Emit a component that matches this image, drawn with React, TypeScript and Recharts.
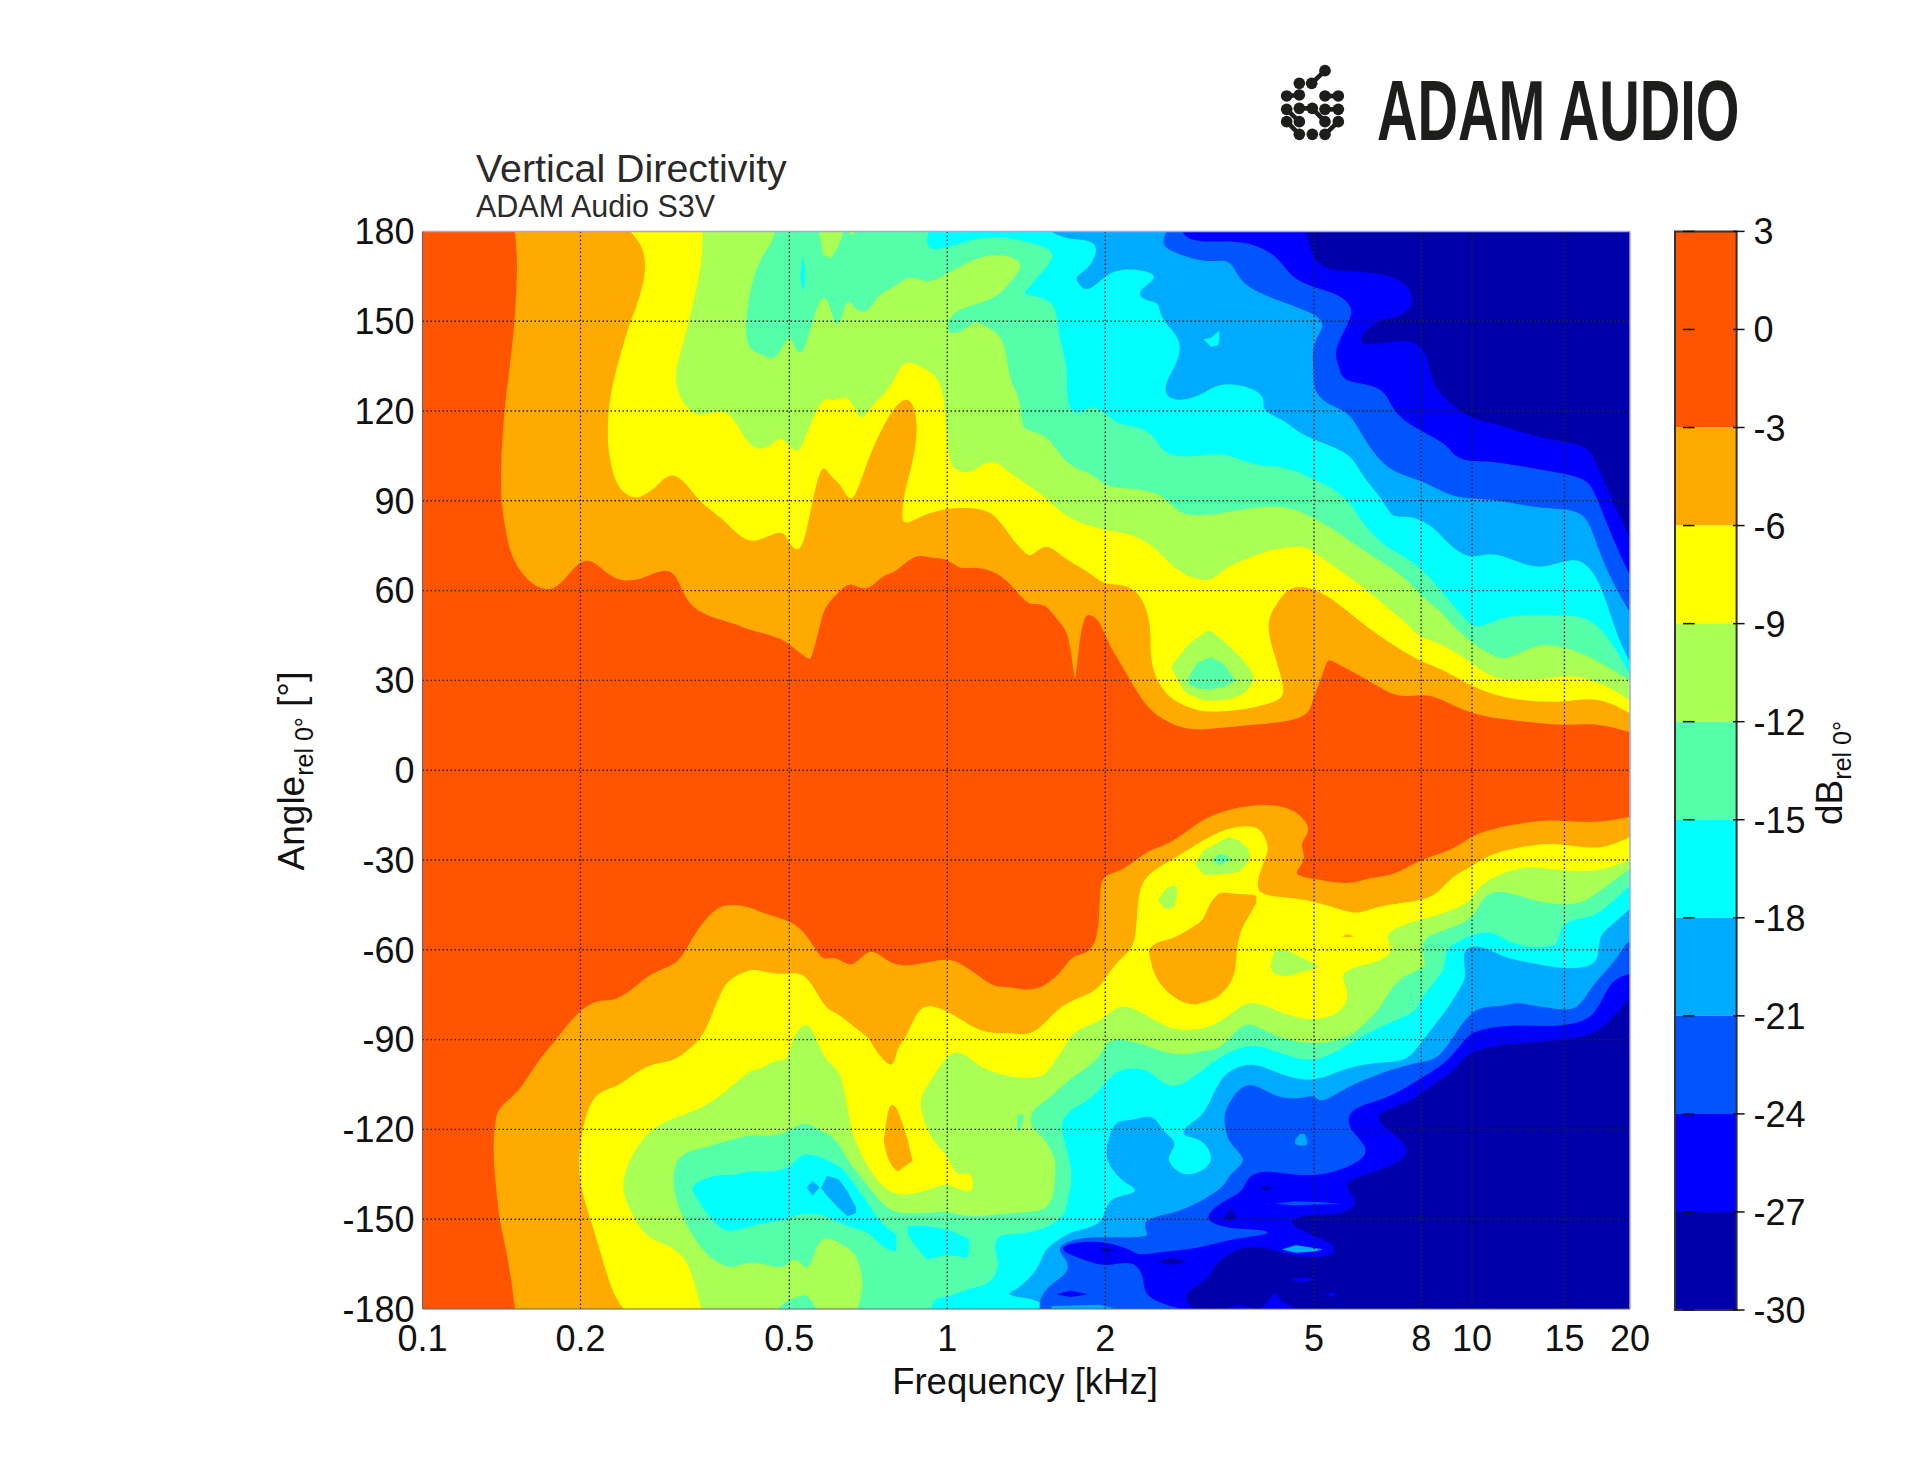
import { ComposedChart, Area, XAxis, YAxis, ReferenceLine, ReferenceArea } from 'recharts'

// frequency in kHz, angle in degrees
const freqTicks = [0.1, 0.2, 0.5, 1, 2, 5, 8, 10, 15, 20]
const angleTicks = [180, 150, 120, 90, 60, 30, 0, -30, -60, -90, -120, -150, -180]
const dbTicks = [3, 0, -3, -6, -9, -12, -15, -18, -21, -24, -27, -30]

const RED = '#ff5500'
const ORANGE = '#ffaa00'
const YELLOW = '#ffff00'
const LIME = '#aaff55'
const SPRING = '#55ffaa'
const CYAN = '#00ffff'
const SKY = '#00aaff'
const AZURE = '#0055ff'
const BLUE = '#0000ff'
const NAVY = '#0000aa'

const dbBands = [
  { lo: -3, hi: 3, color: RED }, { lo: -6, hi: -3, color: ORANGE }, { lo: -9, hi: -6, color: YELLOW },
  { lo: -12, hi: -9, color: LIME }, { lo: -15, hi: -12, color: SPRING }, { lo: -18, hi: -15, color: CYAN },
  { lo: -21, hi: -18, color: SKY }, { lo: -24, hi: -21, color: AZURE }, { lo: -27, hi: -24, color: BLUE },
  { lo: -30, hi: -27, color: NAVY },
]

// contour lines, walked left to right: [kHz, deg]. Upper half fills up to +180, lower half down to -180
const up3 = [[.15,180],[.152,170],[.15,150],[.147,136],[.143,120],[.141,102],[.141,90],[.144,80],[.148,70],[.161,62],[.172,60],[.182,61],[.2,71],[.214,69.5],[.226,65],[.25,62],[.29,68],[.306,65],[.32,55],[.354,51],[.394,49],[.416,47],[.454,45.5],[.49,43.4],[.51,40.7],[.544,37],[.55,37],[.562,43],[.575,50],[.585,55],[.63,60.7],[.656,63],[.7,59],[.76,66],[.785,65],[.87,72.7],[.93,70.6],[1,71],[1.05,67],[1.12,68],[1.21,67],[1.29,64],[1.4,57],[1.44,55],[1.54,56],[1.62,50],[1.69,47],[1.72,40],[1.75,30],[1.755,30],[1.78,41],[1.82,52],[1.88,52],[1.95,50],[2.02,43],[2.14,35.6],[2.27,27.8],[2.4,21],[2.57,17],[2.81,13.8],[3.08,13.5],[3.68,15],[4.88,16.7],[4.95,23],[5.09,27.8],[5.3,37],[5.35,37],[5.85,33.3],[6.5,29],[7.2,24],[8,25.5],[8.64,24.4],[10,18.3],[12.1,16.6],[15,14.6],[17.2,16],[20,12.7]]
const low3 = [[.15,-180],[.147,-167.4],[.143,-157.3],[.14,-149.5],[.139,-143.9],[.138,-139.4],[.136,-126],[.138,-115.4],[.14,-112.6],[.152,-107.6],[.158,-103],[.169,-95.3],[.18,-90],[.199,-79.8],[.218,-76.5],[.23,-77.4],[.25,-73.7],[.27,-68.1],[.295,-65.9],[.312,-63],[.332,-53.6],[.36,-46.4],[.38,-44.7],[.416,-45.3],[.446,-47.8],[.497,-50],[.534,-53.6],[.57,-62],[.585,-63.4],[.616,-62],[.66,-67],[.71,-58.5],[.763,-63.6],[.81,-65.3],[.865,-65.3],[1,-62.5],[1.07,-64.8],[1.18,-70.3],[1.24,-72.6],[1.33,-72.3],[1.4,-73.7],[1.54,-72.5],[1.68,-65.8],[1.72,-61.9],[1.88,-61.3],[1.95,-53.5],[1.95,-39],[1.99,-34.6],[2.15,-34],[2.4,-26.8],[2.57,-25.6],[2.81,-21.7],[3.03,-16.7],[3.45,-12.8],[4.07,-11.1],[4.6,-12.8],[5,-20],[4.65,-24.5],[4.88,-30],[4.5,-35],[4.95,-36.2],[5.85,-38.5],[6.4,-35.7],[7.05,-35.5],[8,-29.5],[9.2,-26.8],[10,-21.7],[11.2,-19],[13.5,-16.7],[14.8,-16.7],[17,-17.8],[20,-15.6]]

const up6 = [[.249,180],[.263,175],[.266,169.6],[.265,164],[.256,155],[.249,150],[.242,143],[.234,134],[.227,124],[.225,114],[.226,106],[.232,97],[.24,93],[.251,91],[.26,91],[.277,94],[.29,98],[.301,99],[.318,96],[.335,90],[.373,84],[.387,81],[.416,76],[.442,77],[.479,80],[.493,78.5],[.5,75.8],[.515,73],[.532,75],[.548,86],[.563,96],[.58,102.7],[.6,97.7],[.626,96],[.656,88],[.686,97],[.71,105],[.75,114],[.786,120.5],[.835,125],[.865,122],[.88,114],[.86,102.6],[.83,93.7],[.815,83.7],[.835,82],[.89,85],[1,87.7],[1.11,87.7],[1.23,86.5],[1.33,77],[1.4,73],[1.44,70.7],[1.54,76.3],[1.65,71.4],[1.8,67.7],[1.93,64],[2,62],[2.19,62],[2.33,59],[2.45,50],[2.43,36.7],[2.52,29],[2.68,23],[2.99,20],[3.15,19.4],[3.68,20],[4.22,22.8],[4.41,25],[4.32,32],[4.12,43],[4.07,50],[4.22,55],[4.41,60],[4.7,62],[5.25,59],[5.8,53],[6.4,47],[6.9,43],[8,36],[8.64,34.5],[10,27.8],[11.5,24],[13.5,22.8],[15,22.8],[16.7,24.2],[18.3,22.8],[20,19]]
const low6 = [[.242,-180],[.23,-175],[.218,-160.4],[.209,-150.3],[.2,-139.4],[.198,-131.5],[.2,-123.6],[.206,-112.5],[.218,-106.8],[.238,-105.7],[.265,-98.3],[.295,-97.7],[.313,-95],[.34,-90],[.355,-82.4],[.375,-71.3],[.397,-68.5],[.425,-66.2],[.446,-67.3],[.488,-68.4],[.52,-67.3],[.548,-70],[.585,-79.8],[.616,-81],[.66,-85.4],[.71,-89.4],[.72,-92],[.755,-97],[.778,-98.5],[.79,-98.5],[.805,-92],[.835,-89.7],[.875,-80],[.93,-78],[1.03,-81.7],[1.11,-85.6],[1.2,-88],[1.3,-87.5],[1.44,-89],[1.55,-83.7],[1.66,-78],[1.84,-75.3],[1.96,-72.5],[2.07,-65.3],[2.2,-61.4],[2.28,-58],[2.3,-48],[2.32,-40],[2.4,-34.7],[2.66,-30.2],[2.86,-26.9],[3.15,-22.3],[3.45,-19],[3.94,-18],[4.07,-24.5],[4.1,-26.9],[3.9,-35.8],[3.88,-41.7],[4.43,-42.5],[5,-43.6],[5.86,-47.7],[6.14,-47.7],[6.65,-45.2],[8,-43.6],[8.6,-41.4],[9.2,-35],[10,-32.3],[10.8,-27.9],[12.4,-25.6],[14.2,-24],[16.7,-26.2],[18.2,-25.6],[20,-22.3]]
const blobOrange = [[2.42,-60,-60],[2.46,-67,-58.5],[2.55,-72,-57],[2.74,-77,-55.9],[2.95,-78.7,-52],[3.08,-77.5,-50.3],[3.15,-77,-44.7],[3.27,-76,-41.5],[3.31,-75,-40.8],[3.47,-71.5,-41],[3.56,-65.9,-41.3],[3.565,-54.7,-41.3],[3.83,-46.5,-41.6],[3.88,-44,-42]]
const spikeOrange = [[.757,-124,-124],[.765,-128,-117],[.778,-131.6,-110.6],[.804,-134.4,-113],[.813,-133.5,-116],[.836,-132,-121.5],[.859,-130.5,-130.5]]
const dotOrange = [[5.65,-55.5,-55.5],[5.8,-55.8,-54.8],[5.95,-55.5,-55.5]]

const up9 = [[.342,180],[.341,169.5],[.33,158],[.319,147],[.308,138],[.303,132],[.306,126],[.318,121],[.336,118],[.36,120],[.38,120],[.397,116],[.416,109],[.439,107],[.458,108],[.482,112],[.5,108],[.52,106],[.532,109.4],[.563,120.5],[.585,125],[.61,122.7],[.64,126],[.67,120.5],[.686,116],[.724,123],[.77,126],[.815,135],[.84,137],[.91,134],[.99,130],[1,104],[1.035,100],[1.1,99],[1.15,101.6],[1.23,104],[1.32,99],[1.44,94.8],[1.54,91],[1.65,86],[1.76,83],[2,80],[2.25,79],[2.47,75],[2.65,69],[2.81,65.5],[3.08,63],[3.22,64],[3.43,68.5],[3.85,71.5],[4.17,74],[4.82,75.2],[5,72.7],[5.5,67.7],[6.16,61.5],[6.8,55.3],[7.4,50],[7.7,47],[8,44],[8.64,42.8],[10,36],[10.8,31],[12.1,30],[13.9,30.5],[15,31.7],[16.5,31],[18.3,27.8],[20,23.3]]
const low9 = [[.34,-180],[.328,-169.6],[.317,-162.9],[.295,-158.5],[.265,-156.2],[.249,-147.3],[.238,-139.4],[.247,-130.5],[.265,-121.5],[.29,-117],[.34,-113.2],[.374,-108.1],[.4,-103.6],[.425,-99.7],[.44,-100.3],[.47,-96.4],[.497,-97.5],[.505,-90],[.53,-84.5],[.55,-85.5],[.563,-90],[.59,-98],[.626,-99.7],[.645,-112.6],[.66,-122.7],[.71,-133.9],[.778,-142.2],[.865,-141.7],[.95,-139.4],[1,-137.8],[1.07,-140.6],[1.12,-141.1],[1.12,-135],[1.08,-134.4],[1.05,-135.5],[1.02,-132.7],[1,-128.3],[.93,-123.8],[.875,-110.4],[.915,-105.9],[1,-94.7],[1.06,-93.6],[1.13,-98],[1.21,-100.9],[1.38,-103.1],[1.5,-102.5],[1.55,-101.2],[1.62,-95.6],[1.66,-93.7],[1.74,-86.5],[1.96,-84.3],[2.1,-78.4],[2.26,-79.3],[2.47,-83.2],[2.66,-86.5],[2.95,-87],[3.22,-85.4],[3.54,-80.4],[3.77,-76.5],[4.25,-80.4],[4.57,-82.4],[5,-83.7],[5.63,-81.5],[5.86,-74.8],[5.63,-69.2],[5.73,-67],[6.14,-65.2],[6.74,-63.6],[7.1,-60.2],[6.8,-55.2],[7.2,-52.4],[8,-49.7],[8.84,-48],[10,-43.6],[10.2,-40.2],[10.6,-36.9],[12.4,-31.8],[13.9,-32.9],[16.1,-34],[17.7,-33.4],[20,-30]]
const lobeLime = [[2.97,-31.3,-31.3],[3.08,-35,-26.8],[3.43,-34.6,-22.3],[3.6,-34,-23.5],[3.73,-31,-26],[3.77,-29,-28]]
const patchLime = [[2.52,-43.6,-43.6],[2.56,-45,-41.5],[2.6,-46.4,-40],[2.66,-46.2,-38.7],[2.71,-45.8,-38.6],[2.74,-41.4,-39]]
const bayLime = [[4.12,-65.5,-65.5],[4.2,-68,-60.5],[4.4,-69,-60],[4.6,-68,-61.5],[5.1,-66,-65.5]]
const upLime = [[2.68,34,35],[2.81,26.7,39.5],[2.88,25.3,42.3],[3.08,23.3,45.6],[3.15,23.3,47.3],[3.29,23.3,44.5],[3.52,23.9,40],[3.77,26.7,34.5],[3.85,31,31]]

const up12 = [[.47,180],[.463,176],[.439,170.6],[.424,163],[.413,152],[.413,145],[.42,140],[.446,139],[.463,137],[.478,139],[.5,146],[.51,142],[.525,138],[.54,143],[.558,152],[.575,158],[.59,158],[.605,151],[.62,147.5],[.634,154],[.65,158],[.67,153],[.71,153],[.74,159.5],[.79,161],[.85,166],[.915,162],[1,166],[1.07,169],[1.23,173.4],[1.42,170],[1.33,164],[1.26,158.5],[1.15,156],[1.05,154],[1,150.6],[1,145],[1.08,147],[1.13,150.6],[1.19,148],[1.29,145],[1.31,129.5],[1.38,125],[1.38,114.4],[1.44,113.4],[1.54,112],[1.62,107],[1.7,101.6],[1.93,98.5],[2,94.2],[2.33,94.2],[2.6,91.7],[2.75,85.6],[3.08,84.7],[3.68,87.4],[4.4,88.9],[5,84.3],[5.5,80],[6.1,74.4],[6.9,68.3],[7.5,64],[8,57.8],[8.64,54],[9,50],[10,42.3],[10.8,38.9],[11.4,36.9],[12.1,38.4],[13.2,41.7],[14,42],[15.5,40.6],[17.3,36.7],[20,30]]
const low12 = [[.674,-180],[.696,-171.9],[.674,-161.8],[.645,-159.6],[.589,-155.1],[.563,-158.5],[.548,-166.3],[.534,-166.3],[.51,-161.8],[.493,-166.8],[.454,-165.2],[.415,-164],[.387,-166.8],[.366,-164.6],[.341,-160.7],[.317,-151.7],[.301,-141.7],[.3,-135],[.306,-129.4],[.323,-127.1],[.347,-126],[.38,-123.8],[.423,-121.5],[.454,-122.7],[.497,-121],[.534,-117],[.563,-119.9],[.616,-122.7],[.639,-129.4],[.686,-136],[.75,-145],[.8,-148.4],[.93,-147.8],[1,-147.3],[1.11,-149.5],[1.22,-148.4],[1.38,-147.8],[1.5,-147.3],[1.55,-146],[1.6,-142],[1.6,-135],[1.62,-130],[1.52,-122],[1.44,-119.7],[1.44,-115],[1.48,-112.4],[1.55,-110.2],[1.73,-102.3],[1.87,-99],[2,-93.4],[2.01,-89.6],[2.3,-90.4],[2.63,-95],[2.9,-95],[3.08,-93.4],[3.31,-93.7],[3.62,-84.8],[3.83,-84.6],[4.37,-90.4],[5,-91.3],[5.38,-91],[5.93,-88.2],[6.14,-85.8],[6.75,-79.1],[7.1,-70.2],[8,-66.3],[8.2,-65.2],[8,-60.8],[8.05,-55.8],[8.84,-53.6],[10,-50.2],[10.4,-43.6],[10.9,-40.2],[11.8,-40.8],[13.7,-44.7],[16,-45.2],[17.2,-41.4],[18.6,-36.9],[20,-32.9]]
const topLime = [[.57,180,180],[.58,172,180],[.6,171,180],[.62,175,180],[.635,180,180]]
const topLime2 = [[.65,180,180],[.655,178.5,180],[.67,180,180]]
const fleckSpring = [[.475,-180,-180],[.497,-180,-177],[.534,-180,-175.2],[.548,-180,-176.4],[.563,-180,-180]]
const fleckSpring2 = [[3.2,-30,-30],[3.3,-32,-28],[3.4,-30.5,-28.5],[3.48,-30,-30]]
const upSpring = [[2.88,28.9,31],[3,27.2,36],[3.18,27,37.8],[3.36,27.8,35.6],[3.54,30,30]]
const stripeSpring = [[1.36,-120.5,-115],[1.38,-120.5,-115],[1.4,-115,-115]]

const up15 = [[.922,180],[.905,173.4],[1,174.5],[1.11,177.3],[1.24,178.6],[1.44,176.5],[1.59,173.9],[1.59,170],[1.47,164],[1.44,161.5],[1.39,159.5],[1.44,158.5],[1.62,157],[1.62,145.5],[1.7,135.6],[1.68,123],[1.76,117.7],[1.88,122.6],[2.01,119],[2.13,115],[2.33,115],[2.5,111],[2.56,106.5],[2.81,104],[3.29,106.5],[3.65,103.5],[3.94,101.6],[4.41,101.6],[5,97.3],[5.5,93.6],[5.92,88.7],[6.16,82.5],[6.9,73.8],[7.56,71.4],[8.64,61.5],[9.9,48],[10.4,47.8],[11,50],[12.1,52],[13.5,51.6],[16,52],[17.2,49],[18.4,43.4],[20,31.7]]
const low15 = [[.93,-180],[.95,-175.8],[1,-176.4],[1.09,-173],[1.2,-172.4],[1.27,-165.2],[1.22,-159.6],[1.25,-155.1],[1.33,-155.1],[1.5,-154],[1.68,-149.4],[1.69,-143.8],[1.75,-134.8],[1.64,-120.2],[1.66,-116.3],[1.73,-113],[1.87,-110.2],[2,-104.6],[2.12,-99.5],[2.4,-99.5],[2.52,-103.4],[2.69,-106.6],[2.94,-102.9],[3.26,-96.2],[3.72,-91.3],[4.1,-92.8],[4.62,-96.7],[5.1,-96.9],[5.55,-93.9],[6.14,-89],[7.1,-83.6],[7.86,-80.8],[8.05,-74.7],[9.05,-65.8],[8.75,-59.7],[10,-54.7],[10.9,-53.6],[11.4,-56.3],[12.7,-59.7],[14.4,-59],[14.6,-56.9],[14.9,-49.7],[17,-49.7],[18.6,-43.6],[20,-38.6]]
const poolCyan = [[.326,-140,-140],[.33,-141.7,-137.8],[.35,-149,-136],[.375,-154,-135],[.39,-154,-135.5],[.42,-152.3,-133.8],[.45,-151.2,-134.4],[.5,-150,-133.3],[.52,-148.4,-129.4],[.535,-148.2,-128],[.57,-148,-129],[.62,-151,-131.6],[.66,-152.9,-137.2],[.71,-154,-145.6],[.755,-160,-152.3],[.8,-160.7,-155]]
const poolCyan2 = [[.84,-155,-152.3],[.865,-158.5,-152.3],[.915,-163.5,-152.3],[1,-161.8,-153.4],[1.09,-163,-156.2],[1.1,-160,-157]]
const dotCyan = [[.525,165,165],[.53,160,172],[.535,162,168]]
const upCyan = [[3.08,144,144],[3.18,141.5,144.5],[3.28,142,146.5],[3.3,144,147]]

const up18 = [[1.575,180],[1.62,178.8],[1.72,177.3],[1.85,177.3],[1.95,175],[1.87,167.7],[1.76,165.2],[1.76,163.4],[1.85,159],[1.99,165.2],[2.15,167.7],[2.4,167],[2.54,164.6],[2.27,159.7],[2.4,156.6],[2.54,156.6],[2.54,151],[2.75,145.5],[2.79,140.5],[2.72,135],[2.6,129.4],[2.6,124.5],[2.81,123.2],[3.08,125.7],[3.29,129.4],[3.68,128.8],[4.07,125],[3.94,120],[4.41,117],[4.7,112],[5.5,107.8],[5.92,104.7],[6.16,98.5],[6.8,89.9],[7.05,83.7],[7.56,85.6],[8.5,81.2],[8.9,76.3],[9.9,70],[10.8,73.2],[12.1,70],[13.4,67],[15,70],[16.2,70.7],[17.4,64],[18.2,54],[19,44],[20,36]]
const low18 = [[1.55,-180],[1.49,-177],[1.38,-176],[1.28,-175.2],[1.38,-173],[1.5,-166],[1.53,-160],[1.62,-157.2],[1.73,-153.8],[2,-152],[2,-142.6],[2.29,-141.7],[2.28,-139.3],[2.16,-137.6],[2.04,-132.6],[2,-128],[2.03,-122.5],[2.1,-116.7],[2.23,-117.4],[2.47,-114.4],[2.56,-120.2],[2.69,-123],[2.73,-125.8],[2.6,-129.8],[2.74,-134.2],[2.9,-135.7],[3.12,-133.1],[3.21,-129.8],[3.12,-124.7],[2.94,-122.5],[2.83,-122.5],[2.8,-119.7],[2.99,-116.9],[3.12,-113.5],[3.3,-103.4],[3.5,-99.5],[3.83,-97.6],[4.18,-100.6],[4.76,-104],[5.2,-102.9],[5.75,-99.5],[6.4,-97.8],[7.2,-97.5],[7.63,-96],[8.15,-89],[9.05,-79.1],[9.5,-72.4],[9.8,-69],[9.5,-59.7],[10.3,-58],[11.4,-62.4],[12.7,-64.1],[15,-66.6],[17,-65.8],[17.5,-61.3],[17.4,-55.2],[18.6,-51.3],[20,-46.3]]

const up21 = [[2.62,180],[2.54,175],[2.79,172],[3.12,169.5],[3.43,170.8],[3.52,167.7],[3.68,161.5],[4.22,157.2],[4.99,152.9],[5.25,149],[5.09,145.5],[4.95,140.5],[4.99,133],[4.99,125.7],[5.42,121.4],[5.85,119.5],[6.16,112],[6.85,99.8],[8,97.3],[9.2,90.5],[10.8,91],[13.2,87.4],[15.7,87.4],[16.7,83.7],[17.4,73.8],[18.5,62.7],[20,52.8]]
const low21 = [[1.5,-180],[1.5,-176.2],[1.57,-171.7],[1.69,-168.4],[1.71,-164.5],[1.62,-160.5],[1.66,-157.7],[1.84,-156],[2,-156],[2.36,-156],[2.43,-155.5],[2.33,-149.9],[2.69,-148.2],[2.99,-144.9],[3.41,-138.7],[3.43,-134.8],[3.78,-130.3],[3.41,-124.7],[3.36,-115.8],[3.41,-112.4],[3.6,-105.7],[3.86,-104.6],[4.18,-109],[4.68,-110.2],[5,-108],[5.14,-111.8],[5.7,-106.2],[6.67,-101.2],[7.9,-97.3],[8.65,-96.9],[9.35,-86.9],[10.2,-78.6],[11.4,-79.1],[12.1,-77.4],[13,-78.6],[15,-80.2],[16,-79.7],[17,-71.3],[18.6,-64.7],[19.6,-58],[20,-57.2]]
const stripSky = [[1.58,-180,-179],[1.7,-180,-178.8],[1.95,-180,-178.6],[2.1,-180,-180]]

const up24 = [[2.81,180],[2.85,177.6],[3.08,176.3],[3.49,177],[3.85,175.7],[4.17,172.6],[4.36,169],[4.57,164],[5.04,161],[5.6,159],[5.93,154.7],[5.85,149.8],[5.42,140],[5.6,134.3],[5.66,129.4],[6.8,128.8],[7.04,120],[7.7,114.6],[9,109],[9.2,104.7],[10,102.9],[10.8,103.5],[13.5,100.4],[16.3,97.9],[17,94.8],[18.5,77.5],[20,65.2]]
const low24 = [[2.78,-180],[2.36,-176.2],[2.38,-170],[2.28,-163.3],[2.01,-166.1],[1.84,-163.9],[1.62,-160.3],[1.71,-157.7],[2.01,-157.2],[2.26,-160.5],[2.31,-162.2],[2.58,-160.8],[2.99,-160],[3.45,-156.6],[4.2,-155],[4,-153.3],[3.41,-153.3],[3.03,-149.9],[3.36,-143.8],[3.67,-141],[3.72,-135.9],[4,-133.4],[4.55,-135.4],[5.35,-135.4],[6.3,-129.8],[6.3,-125.3],[5.8,-119.7],[5.8,-114.1],[6.3,-111.3],[7.05,-109],[8.3,-101.2],[9.05,-96.9],[9.8,-88.6],[10.3,-86.7],[11.8,-84.9],[14,-85.8],[16,-84.7],[17.2,-81.3],[17.9,-74.7],[18.6,-69.7],[20,-68]]
const islandAzure = [[4.2,-144.8,-144.8],[4.6,-145.3,-144],[5.2,-145,-144.3],[5.6,-145,-144.9]]
const islandAzure2 = [[4.35,-160.2,-160],[4.62,-161.2,-158.6],[5,-160.8,-159.6],[5.2,-160,-160]]
const spotSky = [[4.6,-125,-123.5],[4.7,-125.4,-121.5],[4.8,-125.4,-121.5],[4.85,-125,-124]]

const up27 = [[4.82,180],[5,170],[5.34,166.5],[6.7,166.5],[7.54,162.7],[7.7,157.8],[7.68,154.7],[7.2,151],[6.7,151],[6.1,145.5],[6.15,141.8],[6.7,142.4],[7.56,144.2],[8.2,140.5],[8.3,131.9],[8.64,125.7],[9.9,117],[11.2,115.8],[13.4,110.9],[16.2,109],[17,106],[18.2,92.4],[20,77.5]]
const low27 = [[2.94,-180],[2.78,-175],[3.19,-169.5],[3.19,-166.1],[3.56,-158.9],[4.1,-159.4],[4.62,-162.8],[5.43,-162.8],[5.5,-159.4],[5.3,-157.2],[4.55,-152.7],[4.49,-149.9],[5,-148.2],[5.6,-148.8],[6.14,-144.9],[5.73,-139.8],[5.8,-137],[6.2,-135.4],[7.55,-130.3],[7.55,-124.7],[6.6,-118],[6.6,-114.1],[7.55,-111.3],[8.3,-105.7],[9.2,-100.8],[9.5,-96.9],[10.2,-93],[11.8,-91.3],[14.9,-90.2],[16.9,-88.6],[18.4,-83.6],[20,-75.8]]
const spotsNavy = [[[3.95,-139.6,-139.6],[4.02,-140.6,-138.8],[4.12,-140,-139.2],[4.2,-139.7,-139.7]], [[3.36,-150,-150],[3.47,-150.5,-146],[3.55,-150,-149]], [[2.5,-164.3,-164.3],[2.66,-165.2,-163],[2.85,-164.4,-164]], [[1.95,-160.4,-160.3],[2.03,-160.8,-159.8],[2.1,-160.4,-160.3]]]
const spotsBlue = [[[1.62,-175.2,-175],[1.72,-176,-173.8],[1.84,-175.2,-175]], [[3.95,-180,-180],[4.12,-180,-176.6],[4.2,-180,-174.5],[4.35,-180,-177.5],[4.62,-180,-180]], [[3.4,-180,-179.5],[3.6,-180,-178.9],[3.8,-180,-179.6]], [[4.55,-170.5,-170],[4.75,-170.8,-169.4],[5,-170.3,-170]], [[5.3,-175.5,-175],[5.42,-176,-174.5],[5.5,-175.2,-175]]]
const skyChip = [[.54,-139.4,-139.4],[.553,-142.2,-137.2],[.57,-139.6,-139.2]]
const skyPatch = [[.575,-139.6,-139.6],[.59,-142.2,-135.5],[.62,-146.2,-136.6],[.645,-149,-140.6],[.67,-148,-146]]

type Contour = number[][]
const above = (pts: Contour) => pts.map(([f, a]) => ({ f, r: [a, 180] }))
const below = (pts: Contour) => pts.map(([f, a]) => ({ f, r: [-180, a] }))
const island = (pts: Contour) => pts.map(([f, lo, hi]) => ({ f, r: [lo, hi] }))
const fullPlot = [{ f: 0.1, r: [-180, 180] }, { f: 20, r: [-180, 180] }]

// painted in this order, later layers cover earlier ones
const layers: { data: { f: number; r: number[] }[]; color: string }[] = [
  { data: fullPlot, color: RED },
  { data: above(up3), color: ORANGE }, { data: below(low3), color: ORANGE },
  { data: above(up6), color: YELLOW }, { data: below(low6), color: YELLOW },
  { data: island(blobOrange), color: ORANGE }, { data: island(spikeOrange), color: ORANGE }, { data: island(dotOrange), color: ORANGE },
  { data: above(up9), color: LIME }, { data: below(low9), color: LIME },
  { data: island(lobeLime), color: LIME }, { data: island(patchLime), color: LIME }, { data: island(bayLime), color: LIME }, { data: island(upLime), color: LIME },
  { data: above(up12), color: SPRING }, { data: below(low12), color: SPRING },
  { data: island(topLime), color: LIME }, { data: island(topLime2), color: LIME },
  { data: island(fleckSpring), color: SPRING }, { data: island(fleckSpring2), color: SPRING }, { data: island(upSpring), color: SPRING }, { data: island(stripeSpring), color: SPRING },
  { data: above(up15), color: CYAN }, { data: below(low15), color: CYAN },
  { data: island(poolCyan), color: CYAN }, { data: island(poolCyan2), color: CYAN }, { data: island(dotCyan), color: CYAN },
  { data: island(skyChip), color: SKY }, { data: island(skyPatch), color: SKY },
  { data: above(up18), color: SKY }, { data: below(low18), color: SKY },
  { data: island(upCyan), color: CYAN },
  { data: above(up21), color: AZURE }, { data: below(low21), color: AZURE },
  { data: island(stripSky), color: SKY },
  { data: island(spotSky), color: SKY },
  { data: above(up24), color: BLUE }, { data: below(low24), color: BLUE },
  { data: island(islandAzure), color: AZURE }, { data: island(islandAzure2), color: SKY },
  { data: above(up27), color: NAVY }, { data: below(low27), color: NAVY },
  ...spotsNavy.map((s) => ({ data: island(s), color: NAVY })),
  ...spotsBlue.map((s) => ({ data: island(s), color: BLUE })),
]

const FONT = 'Liberation Sans, Arial, sans-serif'
const tickStyle = { fontSize: 36, fill: '#111', fontFamily: FONT }

// the colour bar ticks point inward on both sides
function BarTick({ x, y, payload }: any) {
  return (
    <g>
      <line x1={x - 61.6} x2={x - 50} y1={y} y2={y} stroke="#111" strokeWidth={1.5} />
      <line x1={x - 11.6} x2={x} y1={y} y2={y} stroke="#111" strokeWidth={1.5} />
      <text x={x + 9} y={y + 13} fontSize={36} fontFamily={FONT} fill="#111">{payload.value}</text>
    </g>
  )
}

const logoDots = [
  [165, 62], [125, 100], [88, 100], [50, 138], [88, 135], [165, 138], [205, 138], [50, 178], [88, 175], [127, 175],
  [165, 178], [205, 178], [50, 215], [88, 215], [165, 215], [205, 215], [88, 253], [127, 253], [165, 253],
]
const logoLinks = [[[125, 100], [165, 62]], [[50, 138], [88, 135]], [[165, 138], [205, 138]], [[50, 178], [88, 215]], [[88, 175], [127, 175]], [[127, 175], [165, 215]], [[165, 178], [205, 178]], [[165, 253], [205, 215]], [[50, 215], [88, 253]]]

function Overlay() {
  return (
    <svg width={1920} height={1463} style={{ position: 'absolute', left: 0, top: 0, pointerEvents: 'none' }}>
      <text x={476} y={182} fontSize={39.4} fontFamily={FONT} fill="#2a2a2a">Vertical Directivity</text>
      <text x={476} y={217} fontSize={30.5} fontFamily={FONT} fill="#2a2a2a">ADAM Audio S3V</text>
      <text transform="translate(1377 140) scale(0.66 1)" fontSize={85} fontWeight={700} fontFamily="Liberation Sans Narrow, Liberation Sans, sans-serif" fill="#1d1d1b">ADAM AUDIO</text>
      <g transform="translate(1270 50) scale(0.3333)">
        {logoLinks.map(([a, b], i) => <line key={i} x1={a[0]} y1={a[1]} x2={b[0]} y2={b[1]} stroke="#1d1d1b" strokeWidth={14} />)}
        {logoDots.map(([cx, cy], i) => <circle key={i} cx={cx} cy={cy} r={17.5} fill="#1d1d1b" />)}
      </g>
      <text x={1025} y={1394} textAnchor="middle" fontSize={36.5} fontFamily={FONT} fill="#111">Frequency [kHz]</text>
      <text transform="translate(304 771) rotate(-90)" textAnchor="middle" fontSize={37} fontFamily={FONT} fill="#111">
        Angle<tspan fontSize={25} dy={9}>rel 0°</tspan><tspan dy={-9}> [°]</tspan>
      </text>
      <text transform="translate(1842 773) rotate(-90)" textAnchor="middle" fontSize={37} fontFamily={FONT} fill="#111">
        dB<tspan fontSize={25} dy={9}>rel 0°</tspan>
      </text>
    </svg>
  )
}

export default function App() {
  return (
    <div style={{ position: 'absolute', left: 0, top: 0, width: 1920, height: 1463, background: '#fff', overflow: 'hidden' }}>
      <div style={{ position: 'absolute', left: 0, top: 0 }}>
        <ComposedChart width={1920} height={1463} margin={{ top: 231.4, right: 290, bottom: 74, left: 302.5 }}>
          <XAxis
            type="number" dataKey="f" scale="log" domain={[0.1, 20]} ticks={freqTicks} allowDataOverflow
            height={80} interval={0} tick={tickStyle} tickSize={0} tickMargin={16}
            stroke="#666" tickLine={false}
          />
          <YAxis
            type="number" domain={[-180, 180]} ticks={angleTicks} allowDataOverflow
            width={120} interval={0} tick={tickStyle} tickSize={0} tickMargin={8}
            stroke="#666" tickLine={false}
          />
          {layers.map((l, i) => (
            <Area key={i} data={l.data} dataKey="r" type={l.data.length > 6 ? 'basis' : 'linear'} stroke="none" fill={l.color} fillOpacity={1} dot={false} activeDot={false} isAnimationActive={false} />
          ))}
          {freqTicks.slice(1, -1).map((f) => (
            <ReferenceLine key={f} x={f} stroke="#222" strokeWidth={1.4} strokeDasharray="1.5 2.5" />
          ))}
          {angleTicks.slice(1, -1).map((a) => (
            <ReferenceLine key={a} y={a} stroke="#222" strokeWidth={1.4} strokeDasharray="1.5 2.5" />
          ))}
          <ReferenceLine x={20} stroke="#a8a8d8" strokeWidth={1.5} />
          <ReferenceLine y={180} stroke="#a8a8d8" strokeWidth={1.5} />
        </ComposedChart>
      </div>
      <div style={{ position: 'absolute', left: 1600, top: 0 }}>
        <ComposedChart width={320} height={1463} margin={{ top: 231.4, right: 103.4, bottom: 153, left: 75 }}>
          <XAxis type="number" dataKey="x" domain={[0, 1]} hide />
          <YAxis
            type="number" orientation="right" domain={[-30, 3]} ticks={dbTicks} allowDataOverflow
            width={80} interval={0} tick={<BarTick />} tickLine={false} axisLine={false}
          />
          {dbBands.map((b) => (
            <Area key={b.lo} data={[{ x: 0, r: [b.lo, b.hi] }, { x: 1, r: [b.lo, b.hi] }]} dataKey="r" type="linear" stroke="none" fill={b.color} fillOpacity={1} dot={false} activeDot={false} isAnimationActive={false} />
          ))}
          <ReferenceArea y1={-30} y2={3} x1={0} x2={1} fill="none" stroke="#333" strokeWidth={2} fillOpacity={0} />
        </ComposedChart>
      </div>
      <Overlay />
    </div>
  )
}
